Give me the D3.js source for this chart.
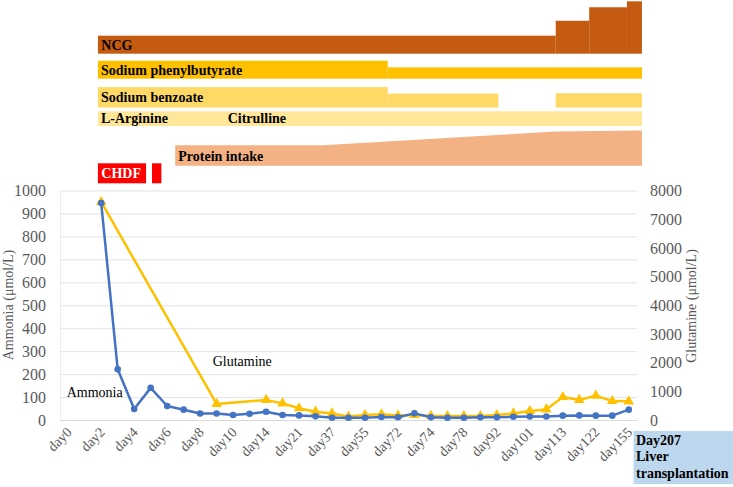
<!DOCTYPE html>
<html><head><meta charset="utf-8">
<script src="https://cdn.jsdelivr.net/npm/d3@7"></script>
<style>
html,body{margin:0;padding:0;background:#fff;}
svg{display:block;}
</style></head>
<body><svg id="c" width="733" height="487"></svg>
<script>
// ---------- data ----------
const tickLabels = ["day0","day2","day4","day6","day8","day10","day14","day21","day37","day55","day72","day74","day78","day92","day101","day113","day122","day155"];
const nSlots = 35; // every other category carries a label
const ammonia = [null,null,945,221,48,140,61,45,28,28,22,27,36,22,20,16,10,10,10,13,12,29,12,10,10,12,12,14,15,15,19,20,19,19,45];
const glutamine = [null,null,7600,null,null,null,null,null,null,560,null,null,700,580,410,290,230,120,175,200,160,175,140,140,140,140,175,230,315,370,800,700,850,660,650];
const leftTicks = [0,100,200,300,400,500,600,700,800,900,1000];
const rightTicks = [0,1000,2000,3000,4000,5000,6000,7000,8000];

// treatment timeline: [start slot, end slot, relative dose]
const ncgSteps = [[2.3,30.07,1],[30.07,32.1,1.83],[32.1,34.39,2.58],[34.39,35.3,2.91]];
const phenylSteps = [[2.3,19.88,1],[19.88,35.3,0.633]];
const benzoateSteps = [[2.3,19.88,1],[19.88,26.59,0.68],[30.07,35.3,0.70]];
const arginineSteps = [[2.3,35.3,1]];
const proteinPoints = [[6.99,1],[15.95,1],[30.07,1.68],[35.3,1.72]];
const chdfPeriods = [[2.3,5.22,1],[5.58,6.15,1]];

// ---------- drawing ----------
const FONT = "Liberation Serif";
const svg = d3.select("#c");
const W = {l:60, r:637, t:190.5, b:420};
const xs = d3.scaleLinear().domain([0,nSlots]).range([W.l,W.r]);
const yL = d3.scaleLinear().domain([0,1000]).range([W.b,W.t]);
const yR = d3.scaleLinear().domain([0,8000]).range([W.b,W.t]);
const gray = "#595959";

function txt(sel, size, bold){
  return sel.style("font-family",FONT).style("font-size",size+"px").style("font-weight",bold?"bold":"normal");
}

// timeline rows
function stepRow(steps, bottom, unit, color){
  svg.append("g").selectAll("rect").data(steps).join("rect")
    .attr("x", d=>xs(d[0])).attr("width", d=>xs(d[1])-xs(d[0]))
    .attr("y", d=>bottom-unit*d[2]).attr("height", d=>unit*d[2])
    .attr("fill", color);
}
stepRow(ncgSteps, 53.7, 18, "#C55A11");
stepRow(phenylSteps, 78.7, 18, "#FFC000");
stepRow(benzoateSteps, 107.5, 20.4, "#FFD966");
stepRow(arginineSteps, 126, 14.7, "#FFE699");
stepRow(chdfPeriods, 183.3, 20, "#FF0000");
const pBottom = 165.7, pUnit = 20.4;
const area = d3.area().x(d=>xs(d[0])).y0(pBottom).y1(d=>pBottom-pUnit*d[1]);
svg.append("path").datum(proteinPoints).attr("d", area).attr("fill","#F4B183");

const lab = [["NCG",101.3,49.5,"#000"],["Sodium phenylbutyrate",101,74.7,"#000"],["Sodium benzoate",101,102.3,"#000"],
  ["L-Arginine",101,123.3,"#000"],["Citrulline",227.7,123.3,"#000"],["Protein intake",178.3,160.7,"#000"],["CHDF",101.3,178.3,"#fff"]];
lab.forEach(d=>txt(svg.append("text").attr("x",d[1]).attr("y",d[2]).attr("fill",d[3]),14,true).text(d[0]));

// gridlines
svg.append("g").selectAll("line").data(leftTicks).join("line")
  .attr("x1",W.l).attr("x2",W.r).attr("y1",d=>yL(d)+0.5).attr("y2",d=>yL(d)+0.5)
  .attr("stroke","#e3e3e3").attr("stroke-width",1);
svg.append("line").attr("x1",W.l+0.5).attr("x2",W.l+0.5).attr("y1",W.t).attr("y2",W.b)
  .attr("stroke","#ececec");

// axes
const axL = svg.append("g").attr("transform",`translate(${W.l},0)`)
  .call(d3.axisLeft(yL).tickValues(leftTicks).tickSize(0).tickPadding(14).tickFormat(d3.format("d")));
const axR = svg.append("g").attr("transform",`translate(${W.r},0)`)
  .call(d3.axisRight(yR).tickValues(rightTicks).tickSize(0).tickPadding(13).tickFormat(d3.format("d")));
[axL,axR].forEach(a=>{a.select(".domain").remove(); a.attr("font-family",null).attr("font-size",null);
  txt(a.selectAll("text"),16,false).attr("fill",gray);});

const tickIdx = d3.range(0,nSlots,2);
const axB = svg.append("g").attr("transform",`translate(0,${W.b})`)
  .call(d3.axisBottom(d3.scaleLinear().domain([0,nSlots]).range([W.l,W.r]))
    .tickValues(tickIdx.map(i=>i+0.5)).tickSize(0).tickFormat((d,i)=>tickLabels[i]));
axB.attr("font-family",null).attr("font-size",null);
axB.select(".domain").attr("stroke","#d9d9d9");
txt(axB.selectAll("text"),14,false).attr("fill",gray)
  .attr("text-anchor","end").attr("dy",null).attr("y",0)
  .attr("transform","translate(4,13) rotate(-45)");

// axis titles
txt(svg.append("text").attr("transform","translate(13,305) rotate(-90)").attr("text-anchor","middle"),14,false)
  .attr("fill",gray).text("Ammonia (μmol/L)");
txt(svg.append("text").attr("transform","translate(696,306) rotate(-90)").attr("text-anchor","middle"),14,false)
  .attr("fill",gray).text("Glutamine (μmol/L)");

// series
const cx = i=>xs(i+0.5);
const gData = glutamine.map((v,i)=>[i,v]).filter(d=>d[1]!=null);
const aData = ammonia.map((v,i)=>[i,v]).filter(d=>d[1]!=null);
svg.append("path").datum(gData).attr("fill","none").attr("stroke","#FFC000").attr("stroke-width",2.5)
  .attr("stroke-linejoin","round").attr("d",d3.line().x(d=>cx(d[0])).y(d=>yR(d[1])));
svg.append("g").selectAll("path").data(gData).join("path")
  .attr("transform",d=>`translate(${cx(d[0])},${yR(d[1])})`)
  .attr("d",d3.symbol(d3.symbolTriangle,48)).attr("fill","#FFC000");
svg.append("path").datum(aData).attr("fill","none").attr("stroke","#4472C4").attr("stroke-width",2.5)
  .attr("stroke-linejoin","round").attr("d",d3.line().x(d=>cx(d[0])).y(d=>yL(d[1])));
svg.append("g").selectAll("circle").data(aData).join("circle")
  .attr("cx",d=>cx(d[0])).attr("cy",d=>yL(d[1])).attr("r",3.3).attr("fill","#4472C4");

// annotations
txt(svg.append("text").attr("x",66.7).attr("y",396.7),14,false).attr("fill","#000").text("Ammonia");
txt(svg.append("text").attr("x",212.7).attr("y",366),14,false).attr("fill","#000").text("Glutamine");

// Day207 box
svg.append("rect").attr("x",633.5).attr("y",431).attr("width",100).attr("height",53).attr("fill","#BDD7EE");
["Day207","Liver","transplantation"].forEach((d,i)=>
  txt(svg.append("text").attr("x",636).attr("y",445+i*16.3),14,true).attr("fill","#000").text(d));
</script></body></html>
